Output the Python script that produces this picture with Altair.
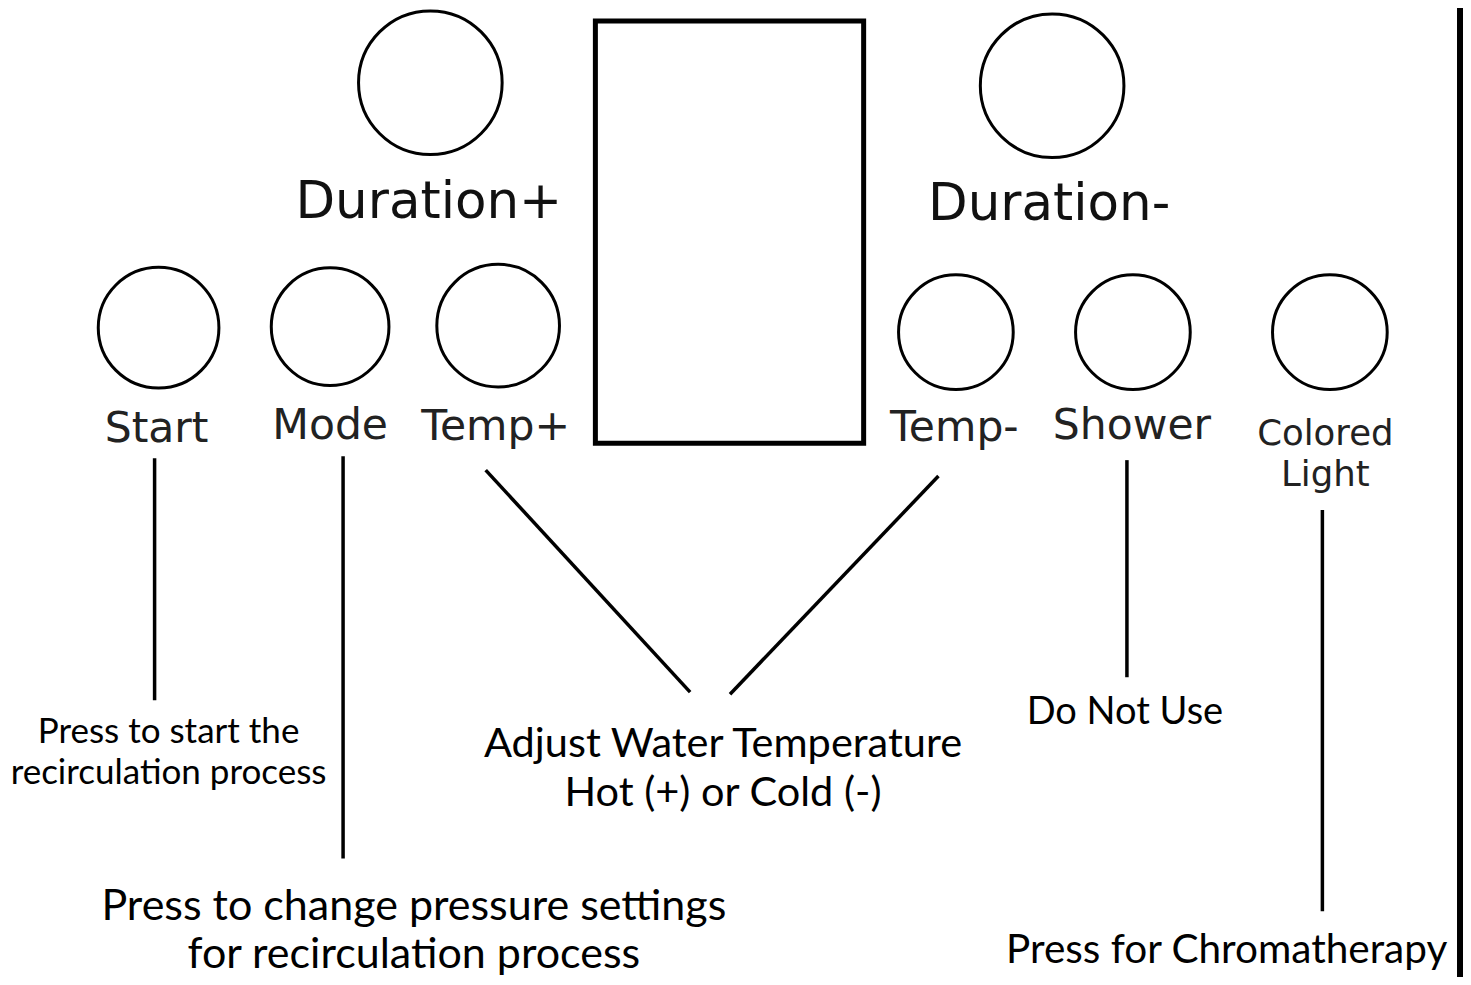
import altair as alt
import pandas as pd

# reference canvas (pixel coordinates)
W, H = 1455, 969
X_DOMAIN = [8, 1467]
Y_DOMAIN = [8, 981]

# buttons (circles)
circle_names = ["Duration+", "Duration-", "Start", "Mode", "Temp+", "Temp-", "Shower", "Colored Light"]
circle_x = [431.5, 1055, 159, 331, 499.5, 958.5, 1136, 1333.5]
circle_y = [83, 86, 329, 328, 327, 333.5, 333.5, 333.5]
circle_d = [144, 144, 121, 118, 123, 115, 115, 115]

# display panel (rectangle)
panel_x, panel_x2 = [597], [866]
panel_y, panel_y2 = [21], [445]

# leader lines
line_x1 = [155, 344, 487, 941, 1130, 1326]
line_y1 = [460, 458, 472, 478, 462, 512]
line_x2 = [155, 344, 692, 732, 1130, 1326]
line_y2 = [703, 862, 695, 697, 680, 915]

# right border
border_x = [1464]
border_y1, border_y2 = [0], [990]

# big button titles
title_text = ["Duration+", "Duration-"]
title_x = [430, 1052]
title_y = [219, 221]

# button labels
label_text = ["Start", "Mode", "Temp+", "Temp-", "Shower"]
label_x = [157, 331, 497, 957, 1135]
label_y = [444, 441, 442, 443, 441]

small_text = ["Colored", "Light"]
small_x = [1329, 1329]
small_y = [447, 488]

# descriptions
start_text = ["Press to start the", "recirculation process"]
start_x = [169, 169]
start_y = [746, 787]

temp_text = ["Adjust Water Temperature", "Hot (+) or Cold (-)"]
temp_x = [725, 725]
temp_y = [760, 809]

shower_text = ["Do Not Use"]
shower_x = [1128]
shower_y = [727]

mode_text = ["Press to change pressure settings", "for recirculation process"]
mode_x = [415, 415]
mode_y = [924, 972]

light_text = ["Press for Chromatherapy"]
light_x = [1230]
light_y = [967]

xs = alt.Scale(domain=X_DOMAIN, nice=False, zero=False)
ys = alt.Scale(domain=Y_DOMAIN, nice=False, zero=False, reverse=True)

def X(f="x"):
    return alt.X(f + ":Q", scale=xs, axis=None)

def Y(f="y"):
    return alt.Y(f + ":Q", scale=ys, axis=None)

px = W / (X_DOMAIN[1] - X_DOMAIN[0])
circles = pd.DataFrame({"name": circle_names, "x": circle_x, "y": circle_y,
                        "size": [(d * px) ** 2 for d in circle_d]})
c_layer = alt.Chart(circles).mark_point(shape="circle", filled=False, stroke="black",
                                        strokeWidth=3, opacity=1).encode(
    x=X(), y=Y(), size=alt.Size("size:Q", scale=None, legend=None))

panel = pd.DataFrame({"x": panel_x, "x2": panel_x2, "y": panel_y, "y2": panel_y2})
p_layer = alt.Chart(panel).mark_rect(filled=False, stroke="black", strokeWidth=5).encode(
    x=X(), x2="x2:Q", y=Y(), y2="y2:Q")

lines = pd.DataFrame({"x": line_x1, "y": line_y1, "x2": line_x2, "y2": line_y2})
l_layer = alt.Chart(lines).mark_rule(stroke="black", strokeWidth=3.5).encode(
    x=X(), x2="x2:Q", y=Y(), y2="y2:Q")

border = pd.DataFrame({"x": border_x, "y": border_y1, "y2": border_y2})
b_layer = alt.Chart(border).mark_rule(stroke="black", strokeWidth=6).encode(
    x=X(), y=Y(), y2="y2:Q")

def text_layer(texts, xv, yv, font, size, color):
    df = pd.DataFrame({"t": texts, "x": xv, "y": yv})
    return alt.Chart(df).mark_text(font=font, fontSize=size, color=color,
                                   align="center", baseline="alphabetic").encode(
        x=X(), y=Y(), text="t:N")

layers = [
    p_layer, c_layer, l_layer, b_layer,
    text_layer(title_text, title_x, title_y, "DejaVu Sans", 51.5, "#111"),
    text_layer(label_text, label_x, label_y, "DejaVu Sans", 42.5, "#222"),
    text_layer(small_text, small_x, small_y, "DejaVu Sans", 35.5, "#222"),
    text_layer(start_text, start_x, start_y, "Lato", 35, "black"),
    text_layer(temp_text, temp_x, temp_y, "Lato", 41.5, "black"),
    text_layer(shower_text, shower_x, shower_y, "Lato", 38, "black"),
    text_layer(mode_text, mode_x, mode_y, "Lato", 43, "black"),
    text_layer(light_text, light_x, light_y, "Lato", 40.5, "black"),
]

chart = alt.layer(*layers).properties(
    width=W, height=H, padding=0,
    autosize=alt.AutoSizeParams(type="none"),
    background="white",
).configure_view(stroke=None)

chart.save("out.html", embed_options={"renderer": "svg", "actions": False})
